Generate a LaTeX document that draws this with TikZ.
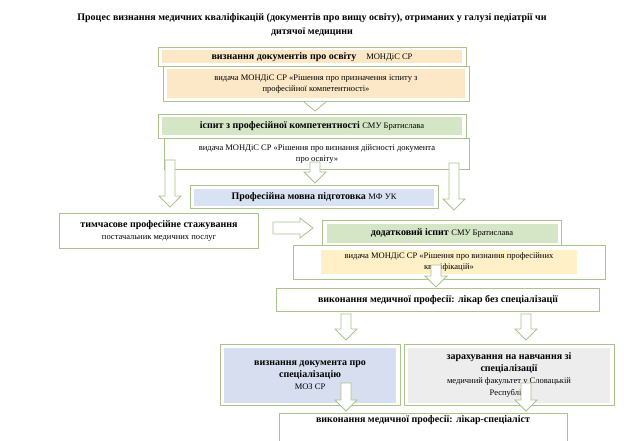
\documentclass[tikz,border=0pt]{standalone}
\usepackage{fontspec}
\setmainfont{Liberation Serif}
\usetikzlibrary{positioning}
\definecolor{boxline}{HTML}{A9C38C}
\definecolor{docfill}{HTML}{FCE8C6}
\definecolor{examfill}{HTML}{D5E6C6}
\definecolor{langfill}{HTML}{D9E2F2}
\definecolor{recfill}{HTML}{D6DEF0}
\definecolor{studyfill}{HTML}{EDEDED}
\definecolor{markfill}{HTML}{FFF0C8}
\newcommand{\bigtxt}{\fontsize{10}{12}\selectfont}
\newcommand{\smalltxt}{\fontsize{8.5}{11}\selectfont}

\tikzset{
  box/.style={draw=boxline, thick, fill=white, align=center, inner sep=2pt},
  inset/.style={path picture={\fill[#1] ([shift={(4pt,-3pt)}]path picture bounding box.north west) rectangle ([shift={(-4pt,3pt)}]path picture bounding box.south east);}},
  smallbox/.style={font=\smalltxt},
}
% hollow block arrow: {x}{y top}{y bottom}
\newcommand{\downarrowbox}[3]{%
  \draw[boxline, thick, fill=white] (#1-5,#2) -- (#1+5,#2) -- (#1+5,#3-11) -- (#1+11,#3-11)
    -- (#1,#3) -- (#1-11,#3-11) -- (#1-5,#3-11) -- cycle;}

\begin{document}
\begin{tikzpicture}[x=1pt,y=-1pt]
  \useasboundingbox (0,0) rectangle (624,441);

  \node[font=\bfseries\fontsize{10}{14}\selectfont, align=center] (title) at (312,25)
    {Процес визнання медичних кваліфікацій (документів про вищу освіту), отриманих у галузі педіатрії чи\\ дитячої медицини};

  \node[box, inset=docfill, minimum width=308, minimum height=19] (recog) at (312,57)
    {\bigtxt\bfseries визнання документів про освіту\quad\mdseries\smalltxt МОНДіС СР};
  \node[box, inset=docfill, minimum width=306, minimum height=35, smallbox] (issue1) at (316,84)
    {видача МОНДіС СР «Рішення про призначення іспиту з\\ професійної компетентності»};

  \node[box, inset=examfill, minimum width=308, minimum height=24] (exam) at (312,126)
    {\bigtxt\bfseries іспит з професійної компетентності \mdseries\smalltxt СМУ Братислава};
  \node[box, minimum width=305, minimum height=31, smallbox] (issue2) at (317,154)
    {видача МОНДіС СР «Рішення про визнання дійсності документа\\ про освіту»};

  \node[box, inset=langfill, minimum width=248, minimum height=23] (lang) at (314,197)
    {\bigtxt\bfseries Професійна мовна підготовка \mdseries\smalltxt МФ УК};

  \node[box, minimum width=199, minimum height=35] (intern) at (159,231)
    {\bigtxt\bfseries тимчасове професійне стажування\\ \mdseries\smalltxt постачальник медичних послуг};

  \node[box, inset=examfill, minimum width=239, minimum height=25] (extra) at (442,233)
    {\bigtxt\bfseries додатковий іспит \mdseries\smalltxt СМУ Братислава};
  \node[box, minimum width=312, minimum height=34, smallbox] (issue3) at (449,262)
    {\colorbox{markfill}{\parbox{250pt}{\centering\smalltxt видача МОНДіС СР «Рішення про визнання професійних\\ кваліфікацій»}}};

  \node[box, minimum width=323, minimum height=23] (general) at (438,300)
    {\bigtxt\bfseries виконання медичної професії: лікар без спеціалізації};

  \node[box, inset=recfill, minimum width=180, minimum height=61] (spec) at (310,375)
    {\bigtxt\bfseries визнання документа про\\ \bigtxt\bfseries спеціалізацію\\ \smalltxt МОЗ СР};
  \node[box, inset=studyfill, minimum width=210, minimum height=61] (study) at (509,375)
    {\bigtxt\bfseries зарахування на навчання зі\\ \bigtxt\bfseries спеціалізації\\ \smalltxt медичний факультет у Словацькій\\ \smalltxt Республіці};

  \node[box, minimum width=288, minimum height=30, anchor=north] (specialist) at (423,413)
    {\bigtxt\bfseries виконання медичної професії: лікар-спеціаліст\\[6pt]};

  % hollow arrows between the steps
  \draw[boxline, thick, fill=white] (304,102) -- (315,111) -- (326,102);
  \downarrowbox{170}{160}{207}
  \downarrowbox{315}{162}{183}
  \downarrowbox{454}{163}{210}
  \draw[boxline, thick, fill=white] (273,222) -- (300,222) -- (300,218) -- (313,228)
    -- (300,238) -- (300,234) -- (273,234) -- cycle;
  \downarrowbox{436}{265}{287}
  \downarrowbox{346}{314}{340}
  \downarrowbox{526}{314}{340}
  \downarrowbox{346}{383}{411}
  \downarrowbox{526}{383}{411}
\end{tikzpicture}
\end{document}
